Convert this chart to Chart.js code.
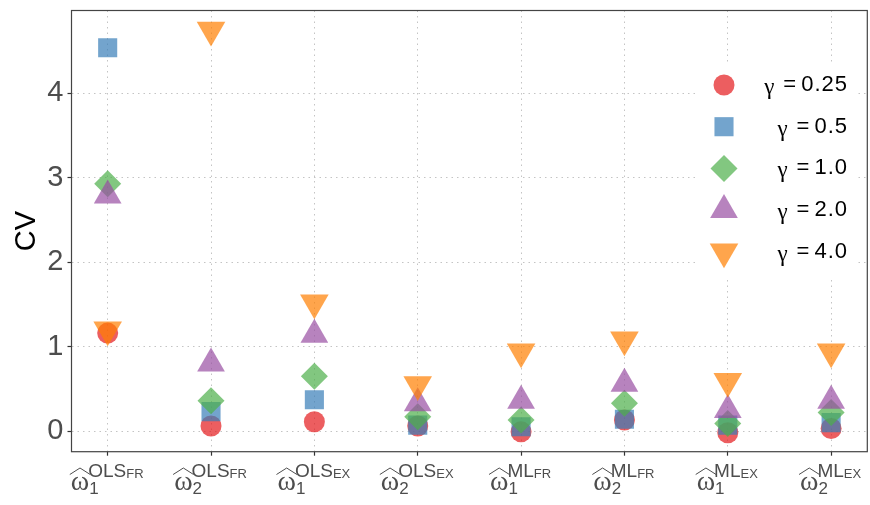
<!DOCTYPE html>
<html>
<head>
<meta charset="utf-8">
<script src="https://cdn.jsdelivr.net/npm/chart.js@4"></script>
<style>
  html, body { margin: 0; padding: 0; background: #fff; }
  #wrap { width: 870px; height: 505px; }
</style>
</head>
<body>
<div id="wrap"><canvas id="cvChart" width="870" height="505"></canvas></div>
<script>
// estimators (x axis), drawn as  omega-hat_{sub}^{sup_{supSub}}
var estimators = ["w1_OLS_FR", "w2_OLS_FR", "w1_OLS_EX", "w2_OLS_EX", "w1_ML_FR", "w2_ML_FR", "w1_ML_EX", "w2_ML_EX"];
var labelSub = ["1", "2", "1", "2", "1", "2", "1", "2"];
var labelSup = ["OLS", "OLS", "OLS", "OLS", "ML", "ML", "ML", "ML"];
var labelSupSub = ["FR", "FR", "EX", "EX", "FR", "FR", "EX", "EX"];

// CV for each gamma
var gammaLabels = ["0.25", "0.5", "1.0", "2.0", "4.0"];
var cvGamma025 = [1.16, 0.06, 0.11, 0.06, -0.01, 0.13, -0.02, 0.03];
var cvGamma05 = [4.54, 0.23, 0.37, 0.07, 0.05, 0.14, 0.07, 0.10];
var cvGamma1 = [2.93, 0.36, 0.65, 0.17, 0.13, 0.33, 0.09, 0.22];
var cvGamma2 = [2.79, 0.80, 1.14, 0.33, 0.36, 0.56, 0.25, 0.36];
var cvGamma4 = [1.20, 4.75, 1.52, 0.55, 0.94, 1.08, 0.59, 0.94];

var yTicks = [0, 1, 2, 3, 4];

var allSeries = [cvGamma025, cvGamma05, cvGamma1, cvGamma2, cvGamma4];
var colors = ["rgba(228,26,28,0.7)", "rgba(55,126,184,0.7)", "rgba(77,175,74,0.7)", "rgba(152,78,163,0.7)", "rgba(255,127,0,0.7)"];
var shapes = ["circle", "rect", "rectRot", "triangle", "triangle"];
var rotations = [0, 0, 0, 0, 180];
var sizes = [10.5, 13.5, 13.5, 16, 16.5];

function toPoints(vals) {
  var pts = [];
  for (var i = 0; i < vals.length; i++) {
    pts.push({ x: i + 1, y: vals[i] });
  }
  return pts;
}

var datasets = [];
for (var k = 0; k < allSeries.length; k++) {
  datasets.push({
    label: "\u03b3 = " + gammaLabels[k],
    data: toPoints(allSeries[k]),
    backgroundColor: colors[k],
    borderColor: colors[k],
    borderWidth: 0,
    pointStyle: shapes[k],
    rotation: rotations[k],
    pointRadius: sizes[k],
    pointHoverRadius: sizes[k],
    order: allSeries.length - k // red first, orange on top
  });
}

// x軸ラベル（ω hat + 添字）
function drawOmegaLabel(ctx, cx, i) {
  var grey = "#4d4d4d";
  ctx.font = '28px "Liberation Serif"';
  var wOmega = ctx.measureText("\u03c9").width;
  ctx.font = '17px "Liberation Sans"';
  var wSub = ctx.measureText(labelSub[i]).width;
  ctx.font = '19px "Liberation Sans"';
  var wSup = ctx.measureText(labelSup[i]).width;
  ctx.font = '13px "Liberation Sans"';
  var wSupSub = ctx.measureText(labelSupSub[i]).width;
  var total = wOmega + Math.max(wSub, wSup + wSupSub);
  var x0 = cx - total / 2;

  ctx.save();
  ctx.fillStyle = grey;
  ctx.textAlign = "left";
  ctx.textBaseline = "alphabetic";
  ctx.font = '28px "Liberation Serif"';
  ctx.fillText("\u03c9", x0, 490);
  ctx.font = '17px "Liberation Sans"';
  ctx.fillText(labelSub[i], x0 + wOmega, 493.5);
  ctx.font = '19px "Liberation Sans"';
  ctx.fillText(labelSup[i], x0 + wOmega - 1, 477);
  ctx.font = '13px "Liberation Sans"';
  ctx.fillText(labelSupSub[i], x0 + wOmega - 1 + wSup, 477.5);
  // hat
  ctx.strokeStyle = grey;
  ctx.lineWidth = 1;
  ctx.beginPath();
  ctx.moveTo(x0 - 1, 474.5);
  ctx.lineTo(x0 + wOmega / 2, 468);
  ctx.lineTo(x0 + wOmega + 1, 474.5);
  ctx.stroke();
  ctx.restore();
}

var extrasPlugin = {
  id: "extras",
  afterDatasetsDraw: function (chart) {
    var ctx = chart.ctx;
    var area = chart.chartArea;
    var xs = chart.scales.x;

    // panel border
    ctx.save();
    ctx.strokeStyle = "#444";
    ctx.lineWidth = 1.2;
    ctx.strokeRect(area.left, area.top, area.right - area.left, area.bottom - area.top);
    ctx.restore();

    // legend inside the panel
    ctx.save();
    ctx.fillStyle = "#fff";
    ctx.fillRect(696, 62, 162, 215);
    for (var k = 0; k < datasets.length; k++) {
      var ly = 85 + k * 41.7;
      ctx.fillStyle = colors[k];
      ctx.strokeStyle = colors[k];
      Chart.helpers.drawPoint(ctx, {
        pointStyle: shapes[k],
        rotation: rotations[k],
        radius: sizes[k],
        borderWidth: 0
      }, 724, ly);
      ctx.fillStyle = "#000";
      ctx.textBaseline = "middle";
      ctx.textAlign = "right";
      ctx.font = '22px "Liberation Sans"';
      ctx.letterSpacing = "1px";
      ctx.fillText(gammaLabels[k], 848, ly);
      var wNum = ctx.measureText(gammaLabels[k]).width;
      ctx.letterSpacing = "0px";
      var xEq = 847 - wNum - 4;
      ctx.fillText("=", xEq, ly);
      var wEq = ctx.measureText("=").width;
      ctx.font = '23px "Liberation Serif"';
      ctx.fillText("\u03b3", xEq - wEq - 9, ly + 3);
    }
    ctx.restore();

    // x labels
    for (var i = 0; i < estimators.length; i++) {
      drawOmegaLabel(ctx, xs.getPixelForValue(i + 1), i);
    }
  }
};

var gridOpts = {
  color: "#c4c4c4",
  lineWidth: 1,
  drawTicks: true,
  tickLength: 4,
  tickColor: "#333",
  tickBorderDash: [],
  tickWidth: 1.2
};

var ctxEl = document.getElementById("cvChart");
var cvChart = new Chart(ctxEl, {
  type: "scatter",
  data: { datasets: datasets },
  options: {
    responsive: false,
    animation: false,
    layout: { autoPadding: false, padding: { top: 10.5, right: 2.7, left: 0, bottom: 0 } },
    plugins: {
      legend: { display: false },
      tooltip: { enabled: false }
    },
    scales: {
      x: {
        type: "linear",
        min: 0.65,
        max: 8.35,
        ticks: { stepSize: 1, includeBounds: false, display: false },
        grid: gridOpts,
        border: { display: false, dash: [1.5, 4] },
        afterFit: function (scale) {
          scale.height = 53.3;
          scale.paddingLeft = 0;
          scale.paddingRight = 0;
        }
      },
      y: {
        type: "linear",
        min: -0.245,
        max: 4.982,
        afterBuildTicks: function (scale) {
          scale.ticks = yTicks.map(function (v) { return { value: v }; });
        },
        ticks: {
          color: "#4d4d4d",
          font: { family: "Liberation Sans", size: 29 },
          padding: 4
        },
        title: {
          display: true,
          text: "CV",
          color: "#000",
          font: { family: "Liberation Sans", size: 29 },
          padding: { top: 10, bottom: 0 }
        },
        grid: gridOpts,
        border: { display: false, dash: [1.5, 4] },
        afterFit: function (scale) {
          scale.width = 71.5;
          scale.paddingTop = 0;
          scale.paddingBottom = 0;
        }
      }
    }
  },
  plugins: [extrasPlugin]
});
</script>
</body>
</html>
